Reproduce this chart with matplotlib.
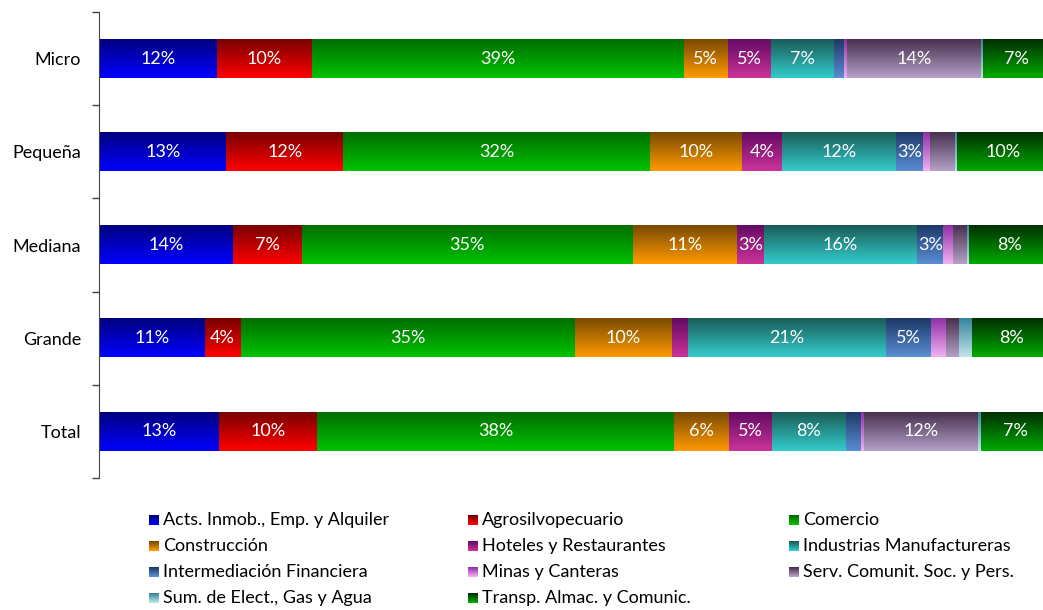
import numpy as np
import matplotlib
matplotlib.use("Agg")
import matplotlib.pyplot as plt
from matplotlib.colors import LinearSegmentedColormap
from matplotlib.patches import Rectangle

plt.rcParams["font.family"] = ["Lato", "DejaVu Sans"]

sizes = ["Micro", "Pequeña", "Mediana", "Grande", "Total"]
sectors = ["Acts. Inmob., Emp. y Alquiler", "Agrosilvopecuario", "Comercio",
           "Construcción", "Hoteles y Restaurantes", "Industrias Manufactureras",
           "Intermediación Financiera", "Minas y Canteras", "Serv. Comunit. Soc. y Pers.",
           "Sum. de Elect., Gas y Agua", "Transp. Almac. y Comunic."]

# share of each sector (%) per company size, same order as `sectors`
micro   = [12.4, 10.0, 39.1, 4.6, 4.6, 6.6, 1.0, 0.4, 14.0, 0.3, 7.0]
pequena = [13.4, 12.3, 32.2, 9.7, 4.2, 12.0, 2.8, 0.8, 2.6, 0.2, 9.8]
mediana = [14.1, 7.2, 34.8, 11.0, 2.8, 16.1, 2.8, 1.0, 1.5, 0.2, 8.5]
grande  = [11.1, 3.8, 35.1, 10.3, 1.6, 20.9, 4.7, 1.6, 1.3, 1.4, 8.2]
total   = [12.6, 10.3, 37.6, 5.7, 4.6, 7.7, 1.6, 0.3, 12.0, 0.3, 7.4]
shares = [micro, pequena, mediana, grande, total]

# (top, bottom) shades of the vertical gradient fill
shades = [("#000080", "#0000ff"), ("#7a0000", "#ff0000"), ("#006e00", "#00c200"),
          ("#7a4a00", "#ff9a00"), ("#640a64", "#cc3399"), ("#1a5c58", "#33cccc"),
          ("#1d3868", "#5a8ed4"), ("#9030a8", "#f2b0f2"), ("#48304e", "#b4a0c8"),
          ("#35869c", "#bfe4ec"), ("#003000", "#00aa00")]
cmaps = [LinearSegmentedColormap.from_list("g%d" % i, s) for i, s in enumerate(shades)]
grad = np.linspace(0, 1, 64).reshape(-1, 1)

fig = plt.figure(figsize=(10.43, 6.10), dpi=100)
ax = fig.add_axes([99 / 1043, 1 - 478 / 610, 951 / 1043, 466 / 610])
n = len(sizes)
h = 0.41

for r, (name, vals) in enumerate(zip(sizes, shares)):
    y = n - 1 - r
    left = 0.0
    for k, v in enumerate(vals):
        ax.imshow(grad, cmap=cmaps[k], aspect="auto", origin="upper",
                  extent=(left, left + v, y - h / 2, y + h / 2), zorder=2)
        if v >= 2.7:
            ax.text(left + v / 2, y, "%d%%" % round(v), color="white",
                    ha="center", va="center", fontsize=13, zorder=3)
        left += v

ax.set_xlim(0, 100)
ax.set_ylim(-0.5, n - 0.5)
ax.set_yticks(np.arange(n))
ax.set_yticklabels(sizes[::-1], fontsize=13)
ax.set_yticks(np.arange(n + 1) - 0.5, minor=True)
ax.tick_params(axis="y", which="major", length=0, pad=13)
ax.tick_params(axis="y", which="minor", length=5, width=1, color="#444444")
ax.set_xticks([])
for side in ("top", "right", "bottom"):
    ax.spines[side].set_visible(False)
ax.spines["left"].set_color("#444444")

# legend: three columns, filled row by row, gradient squares
col_x = [149, 468, 789]
for i, name in enumerate(sectors):
    row, col = divmod(i, 3)
    x0 = col_x[col] / 1043
    yc = 1 - (520 + row * 26) / 610
    sq_w, sq_h = 10 / 1043, 10 / 610
    strips = 10
    for s in range(strips):
        c = cmaps[i](s / (strips - 1))
        fig.add_artist(Rectangle((x0, yc + sq_h / 2 - (s + 1) * sq_h / strips),
                                 sq_w, sq_h / strips, transform=fig.transFigure,
                                 facecolor=c, edgecolor="none"))
    fig.text(x0 + 14 / 1043, yc, name, ha="left", va="center", fontsize=13)

fig.savefig("out.png", dpi=100)
